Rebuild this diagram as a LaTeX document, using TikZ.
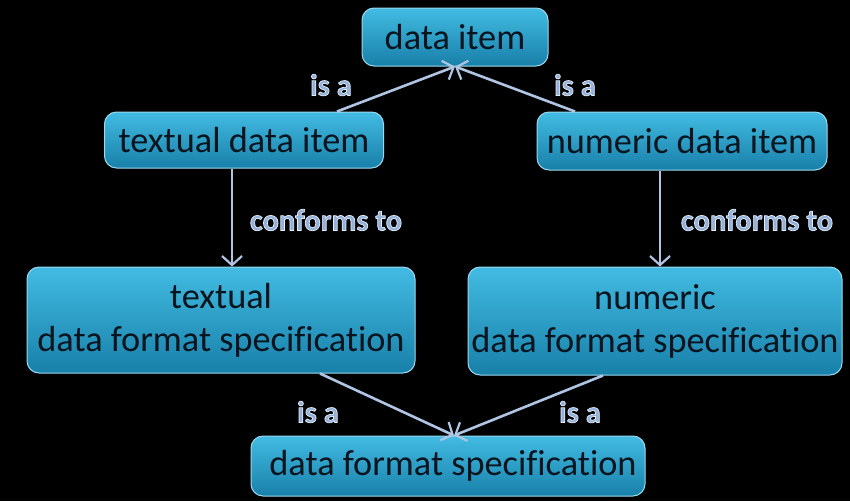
\documentclass[tikz,border=0pt]{standalone}
\usepackage{fontspec}
\setmainfont[Ligatures=NoCommon]{Carlito}
\usetikzlibrary{arrows.meta}
\definecolor{boxtop}{HTML}{42BBE2}
\definecolor{boxbot}{HTML}{1880A9}
\definecolor{boxedge}{HTML}{9AD9EF}
\definecolor{txt}{HTML}{08141E}
\definecolor{arr}{HTML}{AFC5E3}
\definecolor{lblfill}{HTML}{95B1DA}
\newcommand\halo[1]{{\color{lblfill}\special{pdf:literal 2 Tr 0.7 w 0.90 0.94 0.99 RG}#1\special{pdf:literal 0 Tr}}}
\tikzset{
  box/.style={draw=boxedge, line width=1pt, rounded corners=12pt,
    top color=boxtop, bottom color=boxbot, text=txt, align=center,
    font=\fontsize{36.3}{43}\selectfont, inner sep=0pt},
  link/.style={draw=arr, line width=2.6pt, -{Straight Barb[length=9pt,width=20pt,line width=2.2pt]}},
  lbl/.style={font=\fontsize{30.5}{33}\selectfont\bfseries, inner sep=0pt}
}
\begin{document}
\begin{tikzpicture}[x=1pt,y=-1pt]
\fill[black] (0,0) rectangle (850,501);
\useasboundingbox (0,0) rectangle (850,501);
\node[box, minimum width=186pt, minimum height=58pt] (di) at (455,37) {data item};
\node[box, minimum width=279pt, minimum height=56pt] (tdi) at (244,140) {textual data item};
\node[box, minimum width=290pt, minimum height=58pt] (ndi) at (682,141) {numeric data item};
\node[box, minimum width=388pt, minimum height=106pt] (tdfs) at (221,320) {textual\\data format specification};
\node[box, minimum width=374pt, minimum height=108pt] (ndfs) at (655,321) {numeric\\data format specification};
\node[box, minimum width=394pt, minimum height=60pt] (dfs) at (448,466) {\hspace*{10pt}data format specification};
\draw[link] ([xshift=93pt]tdi.north) -- (di.south);
\draw[link] ([xshift=-107pt]ndi.north) -- (di.south);
\draw[link] ([xshift=-12pt]tdi.south) -- ([xshift=11pt]tdfs.north);
\draw[link] ([xshift=-22pt]ndi.south) -- ([xshift=5pt]ndfs.north);
\draw[link] ([xshift=99pt]tdfs.south) -- ([xshift=6pt]dfs.north);
\draw[link] ([xshift=-52pt]ndfs.south) -- ([xshift=6pt]dfs.north);
\node[lbl] (l1) at (331,85) {\halo{is a}};
\node[lbl] (l2) at (575,85) {\halo{is a}};
\node[lbl] (l3) at (326,220) {\halo{conforms to}};
\node[lbl] (l4) at (757,220) {\halo{conforms to}};
\node[lbl] (l5) at (318,412) {\halo{is a}};
\node[lbl] (l6) at (580,412) {\halo{is a}};
\end{tikzpicture}
\end{document}
